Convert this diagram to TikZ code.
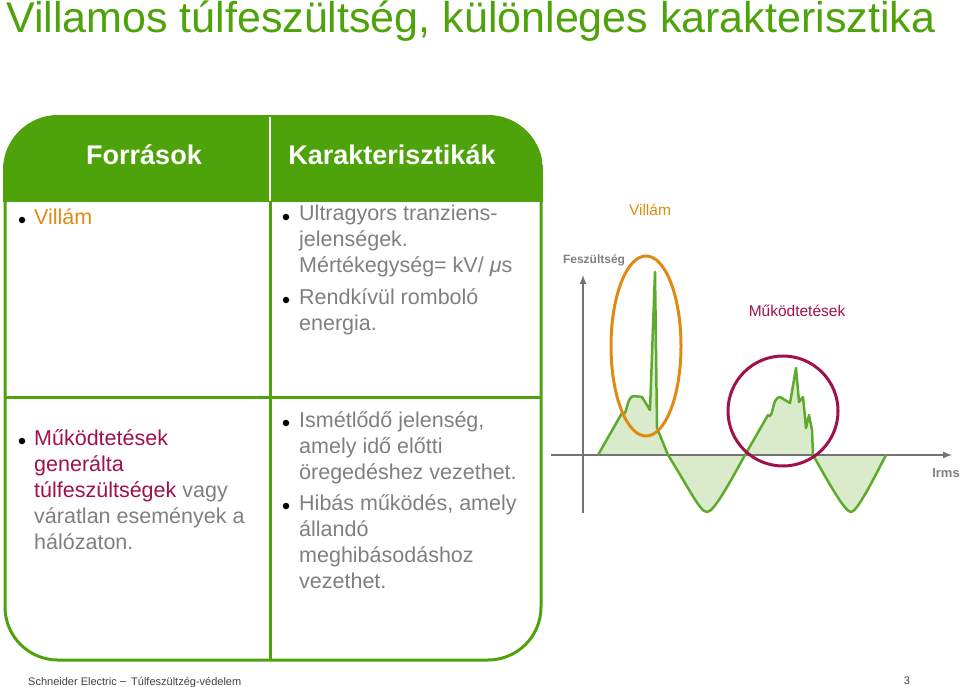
\documentclass[tikz,border=0pt]{standalone}
\usepackage{fontspec}
\setmainfont{Liberation Sans}
\definecolor{sgreen}{HTML}{4EA30A}
\definecolor{wgreen}{HTML}{5DAA2C}
\definecolor{lgreen}{HTML}{D9EBCB}
\definecolor{tgray}{HTML}{7F7F7F}
\definecolor{orng}{HTML}{E08A14}
\definecolor{maroon}{HTML}{A0104A}
\begin{document}
\begin{tikzpicture}[x=1pt,y=-1pt,
  body/.style={anchor=north west,align=left,text=tgray,font=\fontsize{21.5}{26}\selectfont,inner sep=0pt},
  bul/.style={circle,fill=black,inner sep=0pt,minimum size=6.5pt},
  hdr/.style={text=white,font=\fontsize{27}{30}\selectfont\bfseries}]
\useasboundingbox (0,0) rectangle (960,687);
\node[anchor=base west,text=sgreen,font=\fontsize{43}{46}\selectfont,inner sep=0pt] (title) at (6,33) {Villamos túlfeszültség, különleges karakterisztika};
% table
\begin{scope}
\clip[rounded corners=55pt] (3,115) rectangle (543,662);
\fill[sgreen] (3,115) rectangle (543,202);
\end{scope}
\draw[sgreen,line width=3pt,rounded corners=53pt] (5,117) rectangle (541,660);
\draw[sgreen,line width=3pt] (270,115) -- (270,660);
\draw[white,line width=2pt] (270,117) -- (270,201);
\draw[sgreen,line width=3pt] (5,397) -- (541,397);
\node[hdr] (h1) at (144,155) {Források};
\node[hdr] (h2) at (392,155) {Karakterisztikák};
% cells
\node[bul] (b1) at (22,220) {};
\node[body,text=orng] (c1) at (34,208) {Villám};
\node[bul] (b2) at (286,217) {};
\node[body] (c2) at (299,205) {Ultragyors tranziens-\\jelenségek.\\Mértékegység= kV/ \textit{μ}s};
\node[bul] (b3) at (286,300) {};
\node[body] (c3) at (299,288) {Rendkívül romboló\\energia.};
\node[bul] (b4) at (22,441) {};
\node[body] (c4) at (34,429) {\textcolor{maroon}{Működtetések}\\\textcolor{maroon}{generálta}\\\textcolor{maroon}{túlfeszültségek} vagy\\váratlan események a\\hálózaton.};
\node[bul] (b5) at (286,423) {};
\node[body] (c5) at (299,411) {Ismétlődő jelenség,\\amely idő előtti\\öregedéshez vezethet.};
\node[bul] (b6) at (286,506) {};
\node[body] (c6) at (299,494) {Hibás működés, amely\\állandó\\meghibásodáshoz\\vezethet.};
% graph
\fill[lgreen] (598,455) -- (622,413) to[out=-50,in=180] (634,396) -- (642,397) -- (650,410) -- (655,272) -- (657,428) -- (668,455)
  .. controls (690,490) and (700,512) .. (707,512) .. controls (714,512) and (730,482) .. (745,455)
  -- (768,415) to[out=-50,in=180] (780,397) -- (790,403) -- (796,368) -- (799,402) -- (803,397) -- (806,428) -- (809,415) -- (812,430) -- (813,455)
  .. controls (830,485) and (845,512) .. (851,512) .. controls (857,512) and (873,480) .. (886,455) -- cycle;
\draw[gray!90!black,line width=2pt,-latex] (583,513) -- (583,275);
\draw[gray!90!black,line width=2pt,-latex] (551,455) -- (952,455);
\draw[wgreen,line width=2.5pt,line join=round] (598,455) -- (622,413) to[out=-50,in=180] (634,396) -- (642,397) -- (650,410) -- (655,272) -- (657,428) -- (668,455)
  .. controls (690,490) and (700,512) .. (707,512) .. controls (714,512) and (730,482) .. (745,455)
  -- (768,415) to[out=-50,in=180] (780,397) -- (790,403) -- (796,368) -- (799,402) -- (803,397) -- (806,428) -- (809,415) -- (812,430) -- (813,455)
  .. controls (830,485) and (845,512) .. (851,512) .. controls (857,512) and (873,480) .. (886,455);
\draw[orng,line width=3pt] (646,346) ellipse [x radius=35,y radius=90];
\draw[maroon,line width=3pt] (783,411) circle [radius=55];
\node[text=orng,font=\fontsize{15.5}{18}\selectfont] (lv) at (650,210) {Villám};
\node[text=tgray,font=\fontsize{12}{14}\selectfont\bfseries] (lf) at (594,260) {Feszültség};
\node[text=maroon,font=\fontsize{15.5}{18}\selectfont] (lm) at (797,311) {Működtetések};
\node[text=tgray,font=\fontsize{13}{15}\selectfont\bfseries] (li) at (946,473) {Irms};
% footer
\node[anchor=base west,inner sep=0pt,font=\fontsize{11}{13}\selectfont,text=black!75] (f1) at (28,685) {Schneider Electric};
\node[anchor=base west,inner sep=0pt,font=\fontsize{11}{13}\selectfont,text=black!75] (f2) at (131,685) {Túlfeszültzég-védelem};
\draw[black!60] (f1.base east) ++(3,-4) -- ++(6,0);
\node[anchor=base,inner sep=0pt,font=\fontsize{11}{13}\selectfont,text=black!75] (pg) at (907,684) {3};
\end{tikzpicture}
\end{document}
